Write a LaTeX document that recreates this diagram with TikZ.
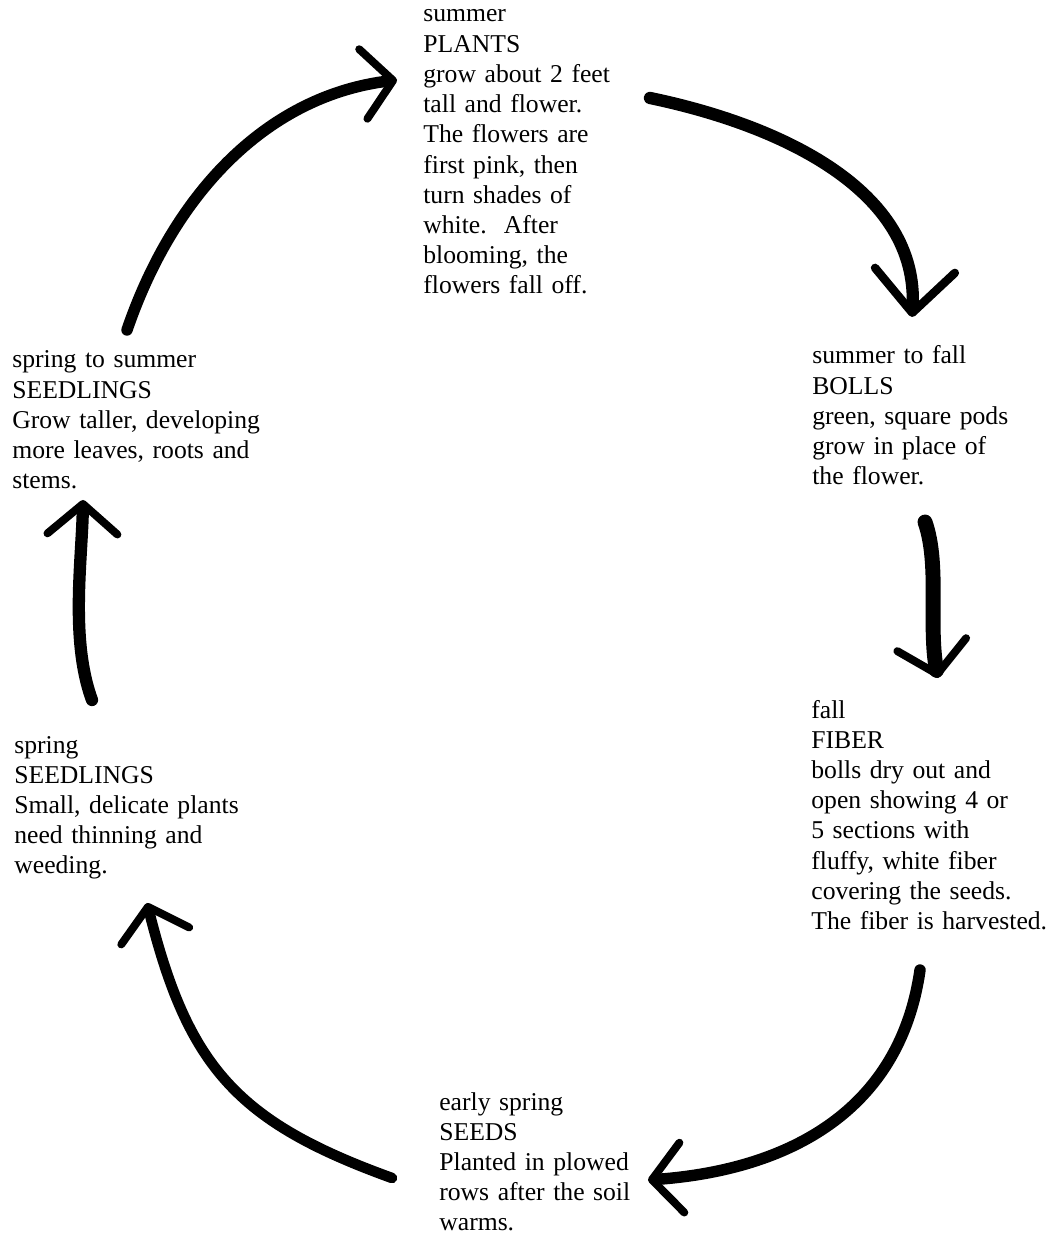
\documentclass[tikz,border=0pt]{standalone}
\usepackage{fontspec}
\setmainfont{Liberation Serif}
\usetikzlibrary{arrows.meta}

\newcommand{\stagefont}{\fontsize{14.6}{17.2}\selectfont}

\begin{document}
\begin{tikzpicture}[
    x=0.02cm, y=-0.02cm,
    stage/.style={anchor=base west, inner sep=0pt, text width=6cm,
                  align=left, font=\stagefont},
    arrow/.style={-{Straight Barb[length=6mm,width=14mm,line width=4.5pt,round]},
                  line width=6.5pt, line cap=round}
]
    \useasboundingbox (0,0) rectangle (1048,1236);

    % Stages
    \node (plants) [stage] at (423,22) {
        summer\\
        PLANTS\\
        grow about 2 feet\\
        tall and flower.\\
        The flowers are\\
        first pink, then\\
        turn shades of\\
        white.\ \ After\\
        blooming, the\\
        flowers fall off.
    };

    \node (bolls) [stage] at (812,364) {
        summer to fall\\
        BOLLS\\
        green, square pods\\
        grow in place of\\
        the flower.
    };

    \node (fiber) [stage] at (811,718) {
        fall\\
        FIBER\\
        bolls dry out and\\
        open showing 4 or\\
        5 sections with\\
        fluffy, white fiber\\
        covering the seeds.\\
        The fiber is harvested.
    };

    \node (seeds) [stage] at (439,1110) {
        early spring\\
        SEEDS\\
        Planted in plowed\\
        rows after the soil\\
        warms.
    };

    \node (sprouts) [stage] at (14,753) {
        spring\\
        SEEDLINGS\\
        Small, delicate plants\\
        need thinning and\\
        weeding.
    };

    \node (seedlings) [stage] at (12,368) {
        spring to summer\\
        SEEDLINGS\\
        Grow taller, developing\\
        more leaves, roots and\\
        stems.
    };

    % Arrow ends
    \coordinate (seedlingsOut) at (127,330);
    \coordinate (plantsIn)     at (397,80);
    \coordinate (plantsOut)    at (650,98);
    \coordinate (bollsIn)      at (912,317);
    \coordinate (bollsOut)     at (925,522);
    \coordinate (fiberIn)      at (938,678);
    \coordinate (fiberOut)     at (920,970);
    \coordinate (seedsIn)      at (648,1180);
    \coordinate (seedsOut)     at (392,1178);
    \coordinate (sproutsIn)    at (147,903);
    \coordinate (sproutsOut)   at (92,700);
    \coordinate (seedlingsIn)  at (83,500);

    % Cycle arrows
    \draw [arrow] (seedlingsOut) .. controls (175,190) and (270,95) .. (plantsIn);
    \draw [arrow, line width=7pt,
           -{Straight Barb[length=8.5mm,width=16mm,line width=4.8pt,round]}]
        (plantsOut) .. controls (780,125) and (920,190) .. (bollsIn);
    \draw [arrow, line width=8.5pt] (bollsOut) .. controls (940,565) and (928,625) .. (fiberIn);
    \draw [arrow] (fiberOut) .. controls (900,1110) and (790,1170) .. (seedsIn);
    \draw [arrow, line width=6pt] (seedsOut) .. controls (237,1122) and (188,1067) .. (sproutsIn);
    \draw [arrow, line width=7pt] (sproutsOut) .. controls (70,640) and (82,560) .. (seedlingsIn);

\end{tikzpicture}
\end{document}
